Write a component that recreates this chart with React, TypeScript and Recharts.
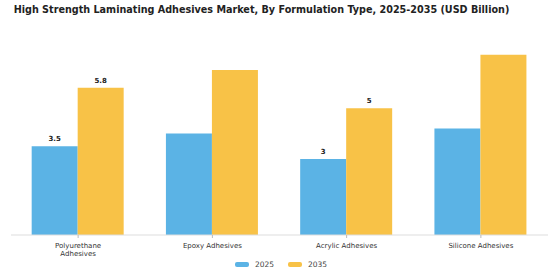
import React from "react";
import { BarChart, Bar, XAxis, YAxis, Legend, LabelList } from "recharts";

const categories = [
  "Polyurethane Adhesives",
  "Epoxy Adhesives",
  "Acrylic Adhesives",
  "Silicone Adhesives",
];
// how each category label breaks onto lines under the axis
const tickLines = [
  ["Polyurethane", "Adhesives"],
  ["Epoxy Adhesives"],
  ["Acrylic Adhesives"],
  ["Silicone Adhesives"],
];
const values2025 = [3.5, 4.0, 3.0, 4.2];
const values2035 = [5.8, 6.5, 5.0, 7.1];
const labels2025 = ["3.5", "", "3", ""];
const labels2035 = ["5.8", "", "5", ""];

const BLUE = "#5BB3E5";
const YELLOW = "#F8C247";
const FONT = "'DejaVu Sans', sans-serif";

const data = categories.map((name, i) => ({
  name,
  y2025: values2025[i],
  y2035: values2035[i],
  l2025: labels2025[i],
  l2035: labels2035[i],
}));

const CategoryTick = (props: any) => {
  const { x, y, index } = props;
  const lines = tickLines[index] || [];
  return (
    <text
      x={x}
      y={y + 7.5}
      textAnchor="middle"
      fontSize={7}
      fontFamily={FONT}
      fill="#333"
    >
      {lines.map((line, i) => (
        <tspan key={i} x={x} dy={i === 0 ? 0 : 8.5}>
          {line}
        </tspan>
      ))}
    </text>
  );
};

const ValueLabel = (props: any) => {
  const { x, y, width, value } = props;
  if (!value) return null;
  return (
    <text
      x={x + width / 2}
      y={y - 5}
      textAnchor="middle"
      fontSize={7}
      fontWeight="bold"
      fontFamily={FONT}
      fill="#222"
    >
      {value}
    </text>
  );
};

const LegendContent = () => (
  <div
    style={{
      display: "flex",
      justifyContent: "center",
      gap: 14,
      fontFamily: FONT,
      fontSize: 7.5,
      color: "#444",
      paddingLeft: 2,
    }}
  >
    {[
      { label: "2025", color: BLUE },
      { label: "2035", color: YELLOW },
    ].map((item) => (
      <div key={item.label} style={{ display: "flex", alignItems: "center", gap: 6 }}>
        <span
          style={{
            width: 14,
            height: 5,
            borderRadius: 2,
            background: item.color,
            display: "inline-block",
          }}
        />
        <span>{item.label}</span>
      </div>
    ))}
  </div>
);

export default function App() {
  return (
    <div
      style={{
        position: "absolute",
        left: 0,
        top: 0,
        width: 560,
        height: 280,
        background: "#fff",
      }}
    >
      <div
        style={{
          position: "absolute",
          top: 4,
          left: 0,
          width: 523,
          textAlign: "center",
          fontFamily: FONT,
          fontWeight: "bold",
          fontSize: 9.65,
          color: "#222",
          whiteSpace: "nowrap",
        }}
      >
        High Strength Laminating Adhesives Market, By Formulation Type, 2025-2035 (USD Billion)
      </div>
      <BarChart
        width={560}
        height={280}
        data={data}
        margin={{ top: 32, right: 12, left: 11, bottom: 0 }}
        barCategoryGap="15.4%"
        barGap={0}
      >
        <XAxis
          dataKey="name"
          height={36}
          axisLine={{ stroke: "#ddd" }}
          tickLine={{ stroke: "#bbb" }}
          tickSize={3}
          interval={0}
          tick={<CategoryTick />}
        />
        <YAxis hide domain={[0, 8]} />
        <Legend
          verticalAlign="bottom"
          content={<LegendContent />}
          wrapperStyle={{ position: "absolute", top: 260, left: 0, width: 560 }}
        />
        <Bar dataKey="y2025" fill={BLUE} isAnimationActive={false}>
          <LabelList dataKey="l2025" content={<ValueLabel />} />
        </Bar>
        <Bar dataKey="y2035" fill={YELLOW} isAnimationActive={false}>
          <LabelList dataKey="l2035" content={<ValueLabel />} />
        </Bar>
      </BarChart>
    </div>
  );
}
